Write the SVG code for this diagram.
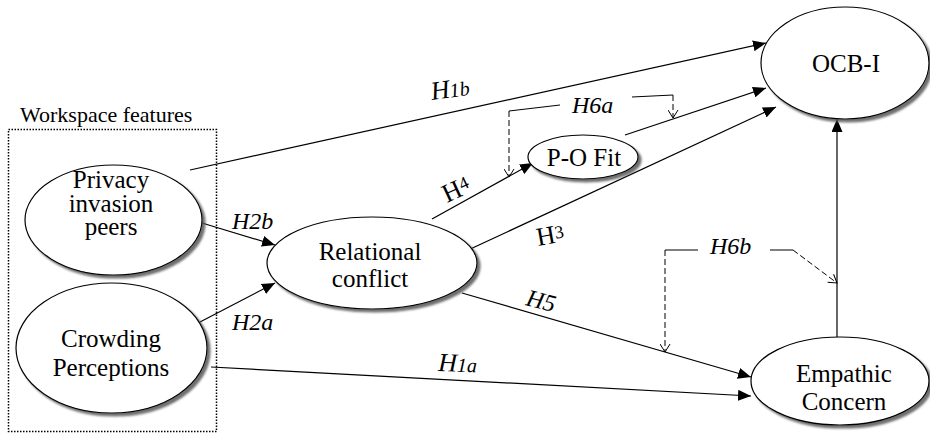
<svg xmlns="http://www.w3.org/2000/svg" width="930" height="435" viewBox="0 0 930 435">
  <defs>
    <filter id="shadow" x="-10%" y="-10%" width="125%" height="130%">
      <feDropShadow dx="3" dy="3" stdDeviation="1.3" flood-color="#555" flood-opacity="0.85"/>
    </filter>
    <marker id="arrow" markerUnits="userSpaceOnUse" markerWidth="13" markerHeight="11" refX="13" refY="5.5" orient="auto">
      <path d="M0,0 L13,5.5 L0,11 z" fill="#000"/>
    </marker>
    <marker id="vee" markerUnits="userSpaceOnUse" markerWidth="10" markerHeight="11" refX="9" refY="5.5" orient="auto">
      <path d="M1,0.5 L9,5.5 L1,10.5" fill="none" stroke="#000" stroke-width="1"/>
    </marker>
  </defs>
  <style>
    text { font-family: "Liberation Serif", "Times New Roman", Times, Tinos, "Nimbus Roman", "Noto Serif", "DejaVu Serif", FreeSerif, serif; fill: #000; }
    .node ellipse { fill: #fff; stroke: #000; stroke-width: 1.2; filter: url(#shadow); }
    .node text { font-size: 25px; text-anchor: middle; }
    .link { fill: none; stroke: #000; stroke-width: 1.2; marker-end: url(#arrow); }
    .mod { fill: none; stroke: #000; stroke-width: 1; }
    .mod.dash { stroke-dasharray: 6 3; marker-end: url(#vee); }
    .hyp { font-size: 24px; }
    .it { font-style: italic; }
    .group-label { font-size: 22px; }
  </style>

  <rect width="930" height="435" fill="#fff"/>

  <!-- Workspace features group box -->
  <g id="workspace-features">
    <rect x="8.5" y="129.5" width="208" height="302" fill="none" stroke="#000" stroke-width="1.5" stroke-dasharray="1.5 1.5"/>
    <text class="group-label" x="20" y="122">Workspace features</text>
  </g>

  <!-- Connectors -->
  <g id="connectors">
    <line class="link" x1="190" y1="170" x2="766" y2="43"/>
    <line class="link" x1="202" y1="223" x2="275" y2="245"/>
    <line class="link" x1="200" y1="322" x2="275" y2="283"/>
    <line class="link" x1="211" y1="367" x2="751" y2="396"/>
    <line class="link" x1="432" y1="219" x2="533" y2="163"/>
    <line class="link" x1="625" y1="135" x2="766" y2="88"/>
    <line class="link" x1="466" y1="251" x2="776" y2="107"/>
    <line class="link" x1="462" y1="293" x2="751" y2="377"/>
    <line class="link" x1="837" y1="337" x2="837" y2="119"/>

    <!-- H6a moderation -->
    <path class="mod" d="M560,105 L509,111"/>
    <path class="mod dash" d="M509,111 L509,177"/>
    <path class="mod" d="M632,97 L673,95"/>
    <path class="mod dash" d="M673,95 L673,118"/>

    <!-- H6b moderation -->
    <path class="mod" d="M698,250 L665,250"/>
    <path class="mod dash" d="M665,250 L665,352"/>
    <path class="mod" d="M770,250 L793,250"/>
    <path class="mod dash" d="M793,250 L837,283"/>
  </g>

  <!-- Hypothesis labels -->
  <g id="labels">
    <text class="hyp it" transform="rotate(-8 432 100)" x="432" y="100"><tspan font-size="26">H</tspan><tspan font-size="20">1b</tspan></text>
    <text class="hyp it" x="232" y="229">H2b</text>
    <text class="hyp it" x="232" y="330">H2a</text>
    <text class="hyp" transform="rotate(-25 447 203)" x="447" y="203"><tspan font-size="26">H</tspan><tspan font-size="18" dy="-5">4</tspan></text>
    <text class="hyp" transform="rotate(-10 538 246)" x="538" y="246"><tspan font-size="26">H</tspan><tspan font-size="18" dy="-4">3</tspan></text>
    <text class="hyp it" transform="rotate(14 525 305)" x="525" y="305">H5</text>
    <text class="hyp it" transform="rotate(2 438 371)" x="438" y="371"><tspan font-size="26">H</tspan><tspan font-size="20">1a</tspan></text>
    <text class="hyp it" x="572" y="113">H6a</text>
    <text class="hyp it" x="710" y="254">H6b</text>
  </g>

  <!-- Nodes -->
  <g id="privacy-invasion-peers" class="node">
    <ellipse cx="113.5" cy="220" rx="88.5" ry="55"/>
    <text x="111" y="188">Privacy</text>
    <text x="111" y="212">invasion</text>
    <text x="111" y="235">peers</text>
  </g>

  <g id="crowding-perceptions" class="node">
    <ellipse cx="111.5" cy="348" rx="95.5" ry="65"/>
    <text x="111" y="347">Crowding</text>
    <text x="111" y="376">Perceptions</text>
  </g>

  <g id="relational-conflict" class="node">
    <ellipse cx="372" cy="263" rx="105" ry="46"/>
    <text x="370" y="260">Relational</text>
    <text x="370" y="287">conflict</text>
  </g>

  <g id="po-fit" class="node">
    <ellipse cx="583" cy="157" rx="55" ry="22"/>
    <text x="584" y="166">P-O Fit</text>
  </g>

  <g id="ocb-i" class="node">
    <ellipse cx="845" cy="63" rx="84" ry="56"/>
    <text x="846" y="72">OCB-I</text>
  </g>

  <g id="empathic-concern" class="node">
    <ellipse cx="840" cy="381" rx="89" ry="44"/>
    <text x="844" y="382">Empathic</text>
    <text x="844" y="410">Concern</text>
  </g>
</svg>
